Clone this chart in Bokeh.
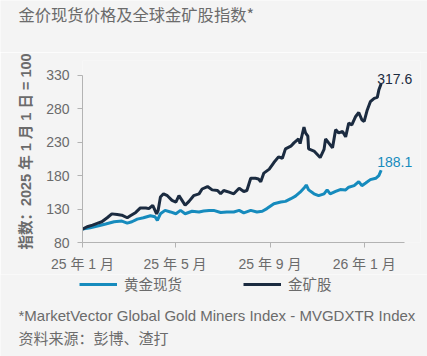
import pandas as pd
from bokeh.plotting import figure
from bokeh.layouts import column
from bokeh.models import (ColumnDataSource, Range1d, FixedTicker, Legend, LegendItem, Label)
from bokeh.core.properties import value
from bokeh.embed import file_html
from bokeh.resources import INLINE

# ---------------- data ----------------
title_text = "金价现货价格及全球金矿股指数*"
y_label = "指数：2025 年 1 月 1 日 = 100"
footnote_1 = "*MarketVector Global Gold Miners Index - MVGDXTR Index"
footnote_2 = "资料来源：彭博、渣打"
series_names = ["黄金现货", "金矿股"]

x_tick_dates = ["2025-01-01", "2025-05-01", "2025-09-01", "2026-01-01"]
x_tick_labels = ["25 年 1 月", "25 年 5 月", "25 年 9 月", "26 年 1 月"]
y_ticks = [80, 130, 180, 230, 280, 330]

gold_dates = ["2025-01-01", "2025-01-11", "2025-01-22", "2025-01-31", "2025-02-11", "2025-02-21",
              "2025-02-28", "2025-03-06", "2025-03-13", "2025-03-21", "2025-03-30", "2025-04-05",
              "2025-04-08", "2025-04-12", "2025-04-18", "2025-04-25", "2025-05-02", "2025-05-08",
              "2025-05-14", "2025-05-23", "2025-06-01", "2025-06-07", "2025-06-14", "2025-06-20",
              "2025-06-29", "2025-07-07", "2025-07-16", "2025-07-23", "2025-07-29", "2025-08-07",
              "2025-08-15", "2025-08-22", "2025-08-28", "2025-09-06", "2025-09-15", "2025-09-21",
              "2025-09-28", "2025-10-04", "2025-10-10", "2025-10-16", "2025-10-18", "2025-10-21",
              "2025-10-28", "2025-11-03", "2025-11-10", "2025-11-14", "2025-11-18", "2025-11-25",
              "2025-12-01", "2025-12-08", "2025-12-12", "2025-12-19", "2025-12-25", "2025-12-29",
              "2026-01-03", "2026-01-09", "2026-01-16", "2026-01-20", "2026-01-23"]
gold_values = [100, 102, 105, 107.6, 111, 112,
               109, 111, 115, 117, 120, 118.5,
               113, 123, 128, 125.7, 123, 128,
               123, 126.7, 125.7, 127.2, 128, 128,
               124.8, 125.7, 125.7, 128, 124.3, 128,
               125.7, 126.7, 130.7, 138, 140.5, 141.5,
               145.5, 149.4, 155.3, 162.7, 166, 158.7,
               152.8, 150, 152.8, 158.7, 152.8, 156.3,
               159.2, 158.7, 162.7, 165, 171, 165,
               169, 174, 176, 180, 188.1]

miner_dates = ["2025-01-01", "2025-01-07", "2025-01-14", "2025-01-20", "2025-01-26", "2025-02-02",
               "2025-02-08", "2025-02-15", "2025-02-21", "2025-02-28", "2025-03-04", "2025-03-11",
               "2025-03-17", "2025-03-24", "2025-03-28", "2025-04-02", "2025-04-07", "2025-04-09",
               "2025-04-12", "2025-04-16", "2025-04-21", "2025-04-27", "2025-05-02", "2025-05-06",
               "2025-05-10", "2025-05-14", "2025-05-19", "2025-05-25", "2025-06-01", "2025-06-05",
               "2025-06-12", "2025-06-18", "2025-06-25", "2025-06-29", "2025-07-03", "2025-07-10",
               "2025-07-16", "2025-07-23", "2025-07-29", "2025-08-02", "2025-08-07", "2025-08-13",
               "2025-08-17", "2025-08-20", "2025-08-24", "2025-08-31", "2025-09-06", "2025-09-12",
               "2025-09-17", "2025-09-21", "2025-09-28", "2025-10-02", "2025-10-08", "2025-10-10",
               "2025-10-15", "2025-10-17", "2025-10-20", "2025-10-21", "2025-10-28", "2025-11-01",
               "2025-11-05", "2025-11-10", "2025-11-12", "2025-11-16", "2025-11-21", "2025-11-25",
               "2025-11-29", "2025-12-04", "2025-12-08", "2025-12-12", "2025-12-16", "2025-12-21",
               "2025-12-25", "2025-12-29", "2026-01-01", "2026-01-05", "2026-01-09", "2026-01-14",
               "2026-01-18", "2026-01-20", "2026-01-23"]
miner_values = [100, 103.6, 106, 108.5, 111, 117,
                122.8, 121.8, 120.9, 117, 120, 125,
                131.7, 131.7, 130.7, 135.6, 122.8, 128,
                148, 152.8, 150, 143, 140.5, 150,
                143, 135.6, 141.5, 150, 152.8, 160,
                163.7, 158.7, 157.8, 152.8, 157.8, 155.3,
                152.8, 161.2, 156.3, 157.8, 176, 176,
                175, 171, 183.8, 189.7, 199.6, 208,
                206, 220, 224, 229, 235, 228,
                252.7, 243.9, 239, 220, 216.8, 211.9,
                207, 219.3, 235, 229, 221.7, 248.8,
                243.9, 246, 238, 258.6, 256, 268.5,
                274.4, 263.6, 261, 278.3, 290.6, 295.6,
                297, 307.9, 317.6]

# ---------------- styles ----------------
BG = "#f4f4f4"
GOLD = "#168bbd"
MINER = "#1b2b40"
TEXT = "#6b6b6b"
AXIS = "#b3b3b3"
FONT = "Liberation Sans, Noto Sans CJK SC"
CJK = "Noto Sans CJK SC"
W = 427
HEAD_H, MAIN_H, FOOT_H = 52, 222, 82


def blank_panel(h):
    f = figure(width=W, height=h, x_range=Range1d(0, W), y_range=Range1d(h, 0),
               output_backend="svg", toolbar_location=None, title=None,
               x_axis_location=None, y_axis_location=None,
               background_fill_color=BG, border_fill_color=BG, outline_line_color=None,
               min_border=0, frame_align=False)
    f.grid.visible = False
    return f


# ---------------- header ----------------
head = blank_panel(HEAD_H)
head.add_layout(Label(x=18, y=13, text=title_text, text_font=CJK, text_font_size="16.3px",
                      text_color=TEXT, text_baseline="middle", text_align="left"))

# ---------------- main chart ----------------
gold_src = ColumnDataSource(dict(x=pd.to_datetime(gold_dates), y=gold_values))
miner_src = ColumnDataSource(dict(x=pd.to_datetime(miner_dates), y=miner_values))

x0 = pd.Timestamp("2025-01-01")
x1 = pd.Timestamp("2026-03-15")
p = figure(width=W, height=MAIN_H, x_axis_type="datetime", title=None,
           x_range=Range1d(x0, x1), y_range=Range1d(80, 352.2),
           output_backend="svg", toolbar_location=None, frame_align=False,
           background_fill_color=BG, border_fill_color=BG, outline_line_color=None,
           min_border_left=82, min_border_right=7, min_border_top=8, min_border_bottom=30)

r_gold = p.line("x", "y", source=gold_src, line_color=GOLD, line_width=3)
r_miner = p.line("x", "y", source=miner_src, line_color=MINER, line_width=3)

p.text(x=[gold_src.data["x"][-1]], y=[gold_values[-1]], text=[f"{gold_values[-1]:.1f}"],
       text_color=GOLD, text_font=value(FONT), text_font_size="14px",
       text_align="left", text_baseline="alphabetic", x_offset=-4, y_offset=-8)
p.text(x=[miner_src.data["x"][-1]], y=[miner_values[-1]], text=[f"{miner_values[-1]:.1f}"],
       text_color=MINER, text_font=value(FONT), text_font_size="14px",
       text_align="left", text_baseline="alphabetic", x_offset=-4, y_offset=-5)

p.grid.visible = False

tick_ms = [pd.Timestamp(d).value // 10**6 for d in x_tick_dates]
p.xaxis.ticker = FixedTicker(ticks=tick_ms)
p.xaxis.major_label_overrides = {t: lab for t, lab in zip(tick_ms, x_tick_labels)}
p.xaxis.bounds = (x0, pd.Timestamp("2026-02-22"))
p.xaxis.minor_tick_line_color = None

p.yaxis.ticker = FixedTicker(ticks=y_ticks)
p.yaxis.bounds = (80, 330)
p.yaxis.minor_tick_line_color = None
p.yaxis.axis_label = y_label
p.yaxis.axis_label_text_font = FONT
p.yaxis.axis_label_text_font_style = "bold"
p.yaxis.axis_label_text_font_size = "14.5px"
p.yaxis.axis_label_text_color = TEXT
p.yaxis.axis_label_standoff = 9

for ax in (p.xaxis, p.yaxis):
    ax.axis_line_color = AXIS
    ax.major_tick_line_color = AXIS
    ax.major_tick_in = 0
    ax.major_tick_out = 5
    ax.major_label_text_font = FONT
    ax.major_label_text_font_size = "14px"
    ax.major_label_text_color = TEXT
    ax.major_label_standoff = 8

# ---------------- footer: legend + notes ----------------
foot = blank_panel(FOOT_H)
# legend keys reuse the series sources (dates lie far outside this panel's range)
k_gold = foot.line("x", "y", source=gold_src, line_color=GOLD, line_width=3)
k_miner = foot.line("x", "y", source=miner_src, line_color=MINER, line_width=3)
legend = Legend(items=[LegendItem(label=series_names[0], renderers=[k_gold]),
                       LegendItem(label=series_names[1], renderers=[k_miner])],
                orientation="horizontal", location=(79, FOOT_H - 20),
                spacing=61, glyph_width=38, glyph_height=16, label_standoff=7,
                label_text_font=FONT, label_text_font_size="14.5px", label_text_color=TEXT,
                background_fill_alpha=0, border_line_color=None,
                padding=0, margin=0)
foot.add_layout(legend, "center")

for txt, yy in ((footnote_1, 41), (footnote_2, 64)):
    foot.add_layout(Label(x=18, y=yy, text=txt, text_font=FONT, text_font_size="15px",
                          text_color=TEXT, text_baseline="middle", text_align="left"))

layout = column(head, p, foot, spacing=0)
open("out.html", "w").write(file_html(layout, INLINE))
